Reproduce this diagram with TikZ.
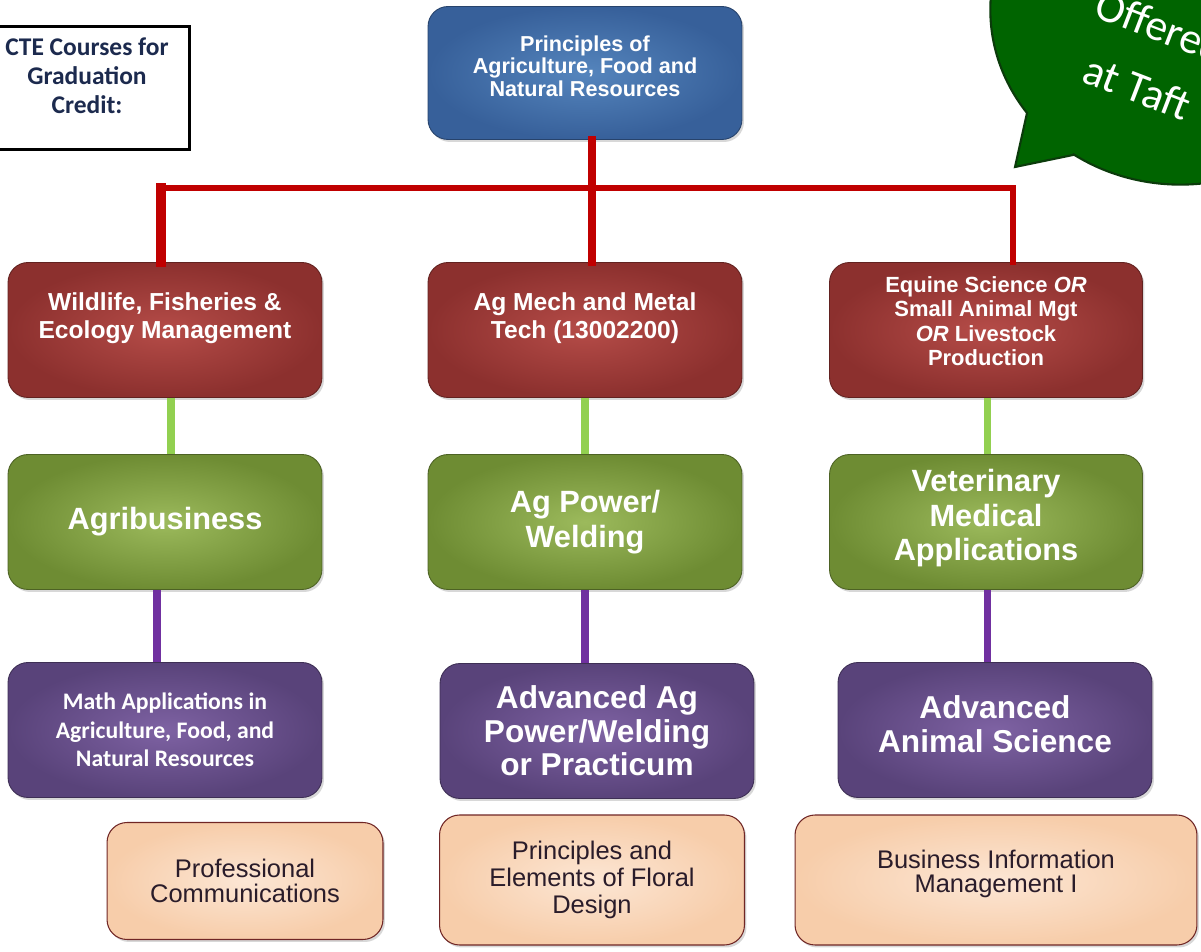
\documentclass[tikz,border=0pt]{standalone}
\usepackage{fontspec}
\setmainfont{Liberation Sans}
\newfontfamily\carl{Carlito}
\usetikzlibrary{shadows}
\definecolor{blueO}{HTML}{37609A}
\definecolor{blueI}{HTML}{5585BD}
\definecolor{redO}{HTML}{8C302E}
\definecolor{redI}{HTML}{B54C48}
\definecolor{grnO}{HTML}{6E8C33}
\definecolor{grnI}{HTML}{9CBA5C}
\definecolor{purO}{HTML}{59437A}
\definecolor{purI}{HTML}{7E62A3}
\definecolor{pchO}{HTML}{F7CDAA}
\definecolor{pchI}{HTML}{FCE6D4}
\definecolor{lnRed}{HTML}{C00000}
\definecolor{lnGrn}{HTML}{92D050}
\definecolor{lnPur}{HTML}{7030A0}
\definecolor{bubG}{HTML}{006400}
\definecolor{bubD}{HTML}{0B3B0B}
\definecolor{navy}{HTML}{1C2A4E}
\definecolor{dtext}{HTML}{2A1C2A}
\begin{document}
\begin{tikzpicture}[x=0.02cm,y=-0.02cm,
  box/.style={rounded corners=0.4cm, shade, minimum width=6.28cm, minimum height=2.7cm,
    align=center, inner sep=2pt,
    drop shadow={opacity=0.3, shadow xshift=0.04cm, shadow yshift=-0.05cm}},
  bluebox/.style={box, inner color=blueI, outer color=blueO, draw=blueO!70!black, line width=0.5pt, text=white},
  redbox/.style={box, inner color=redI, outer color=redO, draw=redO!70!black, line width=0.5pt, text=white},
  grnbox/.style={box, inner color=grnI, outer color=grnO, draw=grnO!70!black, line width=0.5pt, text=white},
  purbox/.style={box, inner color=purI, outer color=purO, draw=purO!70!black, line width=0.5pt, text=white},
  pchbox/.style={box, inner color=pchI, outer color=pchO, draw=redO!80!black, line width=0.6pt, text=dtext},
  redln/.style={draw=lnRed, line cap=rect},
  grnln/.style={draw=lnGrn, line width=4pt},
  purln/.style={draw=lnPur, line width=4pt}
]
% background
\fill[white] (0,0) rectangle (1201,952);

% speech bubble
\fill[bubG, draw=bubD, line width=1.2pt]
  (1073,155) -- (1015,167) -- (1027,113)
  arc[start angle=143.8, end angle=484.2, x radius=190, y radius=175] -- cycle;
\node[font=\carl\fontsize{25}{37}\selectfont, text=white, rotate=-21, align=center]
  (bubtext) at (1149,57) {Offered\\at Taft};

% red connectors
\coordinate (jt) at (592,188);
\coordinate (jl) at (161,188);
\coordinate (jr) at (1013,188);

% CTE box
\node[draw=black, line width=1.2pt, fill=white, minimum width=4.1cm, minimum height=2.46cm,
  align=center, text=navy, font=\carl\bfseries\fontsize{14.5}{16.5}\selectfont,
  drop shadow={opacity=0.25, shadow xshift=0.04cm, shadow yshift=-0.04cm}]
  (cte) at (87,88) {CTE Courses for\\Graduation\\Credit:\\[-2.9pt]};

% top box
\node[bluebox, minimum height=2.66cm, font=\bfseries\fontsize{12.3}{12.8}\selectfont]
  (top) at (585,73) {Principles of\\Agriculture, Food and\\Natural Resources\\[-4.8pt]};

% red row
\node[redbox, font=\bfseries\fontsize{14}{16}\selectfont] (r1) at (165,330)
  {Wildlife, Fisheries \&\\Ecology Management\\[0pt]};
\node[redbox, font=\bfseries\fontsize{14}{16}\selectfont] (r2) at (585,330)
  {Ag Mech and Metal\\Tech (13002200)\\[0pt]};
\node[redbox, minimum width=6.26cm, font=\bfseries\fontsize{12.5}{13.9}\selectfont] (r3) at (986,330)
  {Equine Science \textit{OR}\\Small Animal Mgt\\\textit{OR} Livestock\\Production\\[-3.7pt]};

% green row
\node[grnbox, font=\bfseries\fontsize{17.5}{19.5}\selectfont] (g1) at (165,522) {Agribusiness};
\node[grnbox, font=\bfseries\fontsize{17.5}{19.5}\selectfont] (g2) at (585,522) {Ag Power/\\Welding};
\node[grnbox, minimum width=6.26cm, font=\bfseries\fontsize{17.5}{19.5}\selectfont] (g3) at (986,522)
  {Veterinary\\Medical\\Applications\\[-11.5pt]};

% purple row
\node[purbox, font=\carl\bfseries\fontsize{13.5}{16.2}\selectfont] (p1) at (165,730)
  {Math Applications in\\Agriculture, Food, and\\Natural Resources};
\node[purbox, font=\bfseries\fontsize{18}{19}\selectfont] (p2) at (597,731)
  {Advanced Ag\\Power/Welding\\or Practicum};
\node[purbox, font=\bfseries\fontsize{18}{19}\selectfont] (p3) at (995,730)
  {Advanced\\Animal Science\\[-12.2pt]};

% peach row
\node[pchbox, minimum width=5.52cm, minimum height=2.34cm, font=\fontsize{14.5}{14.5}\selectfont] (e1) at (245,881)
  {Professional\\Communications};
\node[pchbox, minimum width=6.1cm, minimum height=2.6cm, font=\fontsize{14.5}{15.5}\selectfont] (e2) at (592,880)
  {Principles and\\Elements of Floral\\Design};
\node[pchbox, minimum width=8.04cm, minimum height=2.6cm, font=\fontsize{14.5}{13.5}\selectfont] (e3) at (996,880)
  {Business Information\\Management I\\[-3.3pt]};

% connectors
\draw[redln, line width=4.5pt] (jt |- top.south) -- (jt);
\draw[redln, line width=3.2pt] (jl) -- (jr);
\draw[redln, line width=5.5pt] (jl) -- (jl |- r1.north);
\draw[redln, line width=4.5pt] (jt) -- (jt |- r2.north);
\draw[redln, line width=3.4pt] (jr) -- (jr |- r3.north);

\draw[grnln] ([xshift=0.12cm]r1.south) -- ([xshift=0.12cm]g1.north);
\draw[grnln] (r2.south) -- (g2.north);
\draw[grnln] ([xshift=0.03cm]r3.south) -- ([xshift=0.03cm]g3.north);

\draw[purln] ([xshift=-0.16cm]g1.south) -- ([xshift=-0.16cm]g1.south |- p1.north);
\draw[purln] (g2.south) -- (g2.south |- p2.north);
\draw[purln] ([xshift=0.03cm]g3.south) -- ([xshift=0.03cm]g3.south |- p3.north);

\pgfresetboundingbox
\useasboundingbox (0,0) rectangle (1201,952);
\end{tikzpicture}
\end{document}
